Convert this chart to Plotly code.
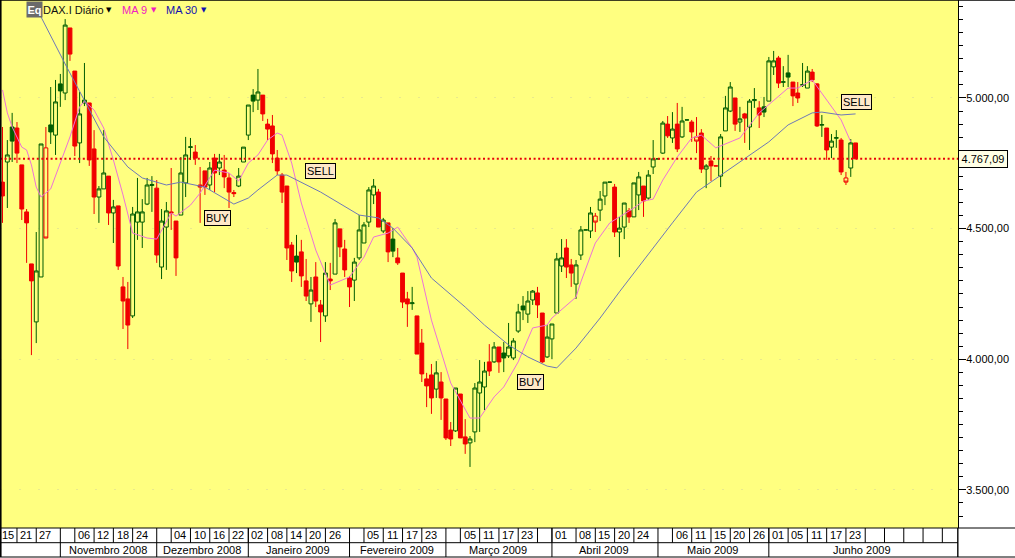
import plotly.graph_objects as go

# ---------- data ----------
open_ = [4678,4755,4835,4885,4744,4564,4365,4143,4315,4809,
         4870,4858,5027,5019,5268,5103,4828,4981,4981,4805,
         4621,4652,4701,4560,4587,4277,4231,4166,4525,4525,
         4594,4665,4655,4353,4506,4564,4529,4552,4675,4811,
         4793,4667,4721,4667,4770,4732,4724,4694,4638,4663,
         4755,4858,4988,4992,5011,4900,4893,4770,4705,4663,
         4437,4372,4411,4300,4212,4315,4208,4166,4307,4326,
         4499,4422,4311,4303,4388,4445,4525,4629,4640,4491,
         4522,4414,4388,4330,4231,4213,4166,4062,3925,3940,
         3886,3913,3848,3729,3726,3867,3703,3680,3722,3871,
         3894,3990,3990,4047,4005,4013,4005,4108,4189,4173,
         4227,4254,4177,4009,4078,4177,4357,4426,4361,4288,
         4399,4495,4491,4548,4571,4625,4678,4659,4487,4506,
         4568,4545,4629,4663,4617,4736,4767,4789,4900,4847,
         4900,4851,4916,4908,4851,4866,4728,4759,4740,4701,
         4874,4950,5000,4908,4939,4889,4990,4962,4946,4988,
         5119,5153,5060,5080,5061,5019,5049,5038,5099,5054,
         4896,4885,4812,4846,4839,4694,4732,4828]
high = [4889,4839,4943,4908,4744,4575,4365,4487,4824,4889,
        5042,5069,5092,5302,5268,5103,5023,5134,4981,4877,
        4663,4877,4701,4610,4587,4315,4296,4583,4694,4613,
        4694,4701,4686,4575,4602,4732,4529,4774,4851,4847,
        4820,4736,4721,4755,4786,4786,4782,4713,4648,4732,
        4812,4973,5034,5111,5011,4920,4935,4801,4713,4663,
        4449,4476,4457,4384,4315,4372,4227,4372,4369,4537,
        4499,4457,4319,4388,4552,4525,4659,4690,4652,4541,
        4522,4502,4426,4330,4258,4277,4166,4116,3948,3982,
        3993,3951,3848,3760,3890,3867,3771,3706,3909,3997,
        3990,4058,4066,4047,4066,4139,4081,4212,4242,4261,
        4265,4277,4177,4131,4135,4407,4460,4460,4384,4380,
        4510,4495,4583,4560,4644,4678,4678,4671,4545,4598,
        4579,4675,4717,4663,4724,4839,4767,4912,4931,4946,
        4981,4966,4916,4916,4927,4881,4747,4778,4740,4862,
        5008,5061,5000,4966,4943,4996,5038,4988,5004,5157,
        5180,5161,5122,5165,5061,5061,5134,5122,5111,5057,
        4935,4885,4862,4877,4847,4717,4843,4828]
low = [4522,4579,4755,4751,4533,4369,4016,4062,4315,4464,
       4824,4782,4966,4992,5142,4778,4751,4969,4740,4556,
       4522,4652,4514,4445,4342,4116,4039,4158,4457,4426,
       4590,4564,4369,4307,4342,4495,4319,4552,4621,4763,
       4744,4522,4629,4648,4640,4705,4655,4579,4621,4659,
       4755,4839,4946,4954,4912,4839,4751,4705,4598,4380,
       4296,4330,4277,4223,4143,4200,4066,4143,4265,4326,
       4391,4315,4200,4223,4380,4445,4506,4594,4506,4483,
       4372,4391,4361,4196,4124,4189,4020,3913,3817,3791,
       3852,3768,3691,3668,3722,3699,3638,3588,3683,3722,
       3806,3936,3986,3948,3951,4005,3997,4101,4150,4139,
       4208,4158,3986,4005,4001,4177,4334,4311,4277,4231,
       4380,4495,4464,4487,4529,4590,4678,4468,4391,4460,
       4522,4545,4571,4545,4610,4709,4767,4786,4847,4828,
       4793,4847,4916,4832,4789,4713,4655,4682,4740,4659,
       4874,4946,4874,4870,4828,4801,4962,4885,4927,4988,
       5088,5038,5042,5042,4969,4981,5042,5038,5061,4889,
       4851,4763,4770,4809,4705,4667,4698,4767.09]
close = [4625,4782,4889,4789,4575,4522,4300,4338,4824,4464,
         4897,4985,5054,5279,5168,4816,4939,4992,4763,4621,
         4652,4713,4560,4583,4357,4223,4131,4556,4564,4564,
         4667,4669,4399,4529,4568,4560,4388,4713,4782,4813,
         4770,4659,4659,4732,4713,4755,4698,4640,4634,4701,
         4812,4973,5011,5023,4939,4881,4786,4721,4640,4426,
         4338,4395,4319,4242,4265,4223,4181,4330,4300,4522,
         4430,4342,4277,4372,4495,4514,4648,4663,4506,4533,
         4411,4460,4369,4219,4212,4216,4020,3944,3898,3852,
         3948,3852,3699,3695,3890,3699,3676,3695,3890,3913,
         3955,3955,4047,3990,4024,4047,4070,4181,4204,4223,
         4261,4208,3990,4085,4135,4384,4388,4353,4330,4361,
         4495,4495,4560,4525,4613,4678,4678,4487,4502,4598,
         4545,4675,4698,4606,4705,4767,4767,4904,4855,4881,
         4805,4912,4916,4870,4835,4728,4740,4740,4740,4851,
         4962,5042,4900,4920,4923,4988,4994,4935,4966,5142,
         5142,5057,5062,5096,5008,5000,5051,5103,5069,4893,
         4898,4801,4835,4848,4717,4678,4828,4767.09]
assert len(open_) == len(high) == len(low) == len(close) == 178

filled_green = [2, 10, 12, 52, 61, 81, 104, 108, 158, 163]
hollow_red = [9, 123, 144, 175]
flat_red = [148]

ma9_bar = [0,1,2,4,5,6,7,8,10,12,14,16,17,19,21,23,25,27,30,32,35,36,39,41,44,47,49,51,53,55,57,58,60,62,64,65,68,72,75,77,80,82,85,86,89,93,97,99,102,104,107,110,113,114,119,120,123,126,131,133,135,137,140,143,145,148,153,157,163,165,168,170,174,176]
ma9_val = [5031,4943,4889,4812,4801,4744,4659,4621,4652,4751,4851,4966,4988,4954,4885,4763,4629,4483,4464,4460,4560,4548,4590,4636,4724,4713,4682,4751,4782,4839,4866,4858,4751,4598,4476,4418,4284,4315,4391,4468,4483,4506,4426,4391,4150,3909,3775,3775,3856,3894,3990,4120,4131,4158,4238,4296,4445,4522,4579,4606,4613,4686,4774,4847,4858,4809,4847,4943,5038,5038,5069,5019,4916,4832]

ma30_bar = [7,8,13,17,21,26,29,34,37,42,48,51,53,57,59,66,74,78,81,85,89,96,100,105,109,113,115,119,124,128,133,139,144,149,154,159,163,168,170,174,177]
ma30_val = [5364,5310,5130,4992,4851,4736,4694,4667,4678,4659,4594,4617,4648,4705,4705,4640,4552,4541,4502,4426,4311,4200,4131,4055,4009,3974,3967,4043,4158,4258,4380,4522,4640,4705,4770,4832,4897,4943,4946,4935,4939]

last_price = 4767.09
last_label = "4.767,09"

y_ticks = [3500, 4000, 4500, 5000]
y_labels = ["3.500,00", "4.000,00", "4.500,00", "5.000,00"]

day_bar = [-0.3, 3, 7, 15, 19, 23, 27, 35, 39, 43, 47, 51, 55, 59, 63, 67, 75, 79, 83, 87, 95, 99, 103, 107, 114, 119, 123, 127, 131, 139, 143, 147, 151, 155, 159, 163, 167, 171, 175]
day_text = ["15","21","27","06","12","18","24","04","10","16","22","02","08","14","20","26","05","11","17","23","05","11","17","23","01","08","15","20","24","06","11","15","20","26","01","05","11","17","23"]
blank_cell_bar = [111, 179, 183, 187, 191, 195]

month_bar = [12, 32, 51, 72, 92, 114, 136, 159, 198.2]
month_text = ["Novembro 2008","Dezembro 2008","Janeiro 2009","Fevereiro 2009","Março 2009","Abril 2009","Maio 2009","Junho 2009"]

signal_bar = [44.7, 109.6, 65.9, 177.1]
signal_price = [4541, 3913, 4721, 4985]
signal_text = ["BUY", "BUY", "SELL", "SELL"]

# ---------- styling ----------
BG = "#FFFF80"
GREEN = "#005c00"
RED = "#F00000"
FONT = "Liberation Sans"
PH = 528.0
PW = 958.0
X_RANGE = [-0.52, 198.25]
Y_RANGE = [3354.3, 5375]

fig = go.Figure()

def add_group(idx, line, fill):
    fig.add_trace(go.Candlestick(
        x=idx,
        open=[open_[i] for i in idx], high=[high[i] for i in idx],
        low=[low[i] for i in idx], close=[close[i] for i in idx],
        increasing=dict(line=dict(color=line, width=1), fillcolor=fill),
        decreasing=dict(line=dict(color=line, width=1), fillcolor=fill),
        whiskerwidth=0, showlegend=False, hoverinfo="skip"))

allbars = range(len(open_))
special = set(filled_green) | set(hollow_red) | set(flat_red)
add_group([i for i in allbars if i not in special and close[i] >= open_[i]], GREEN, BG)
add_group([i for i in allbars if i not in special and close[i] < open_[i]] + flat_red, RED, RED)
add_group(filled_green, GREEN, GREEN)
add_group(hollow_red, RED, BG)

fig.add_trace(go.Scatter(x=ma9_bar, y=ma9_val, mode="lines", showlegend=False, hoverinfo="skip",
                         line=dict(color="#EE72D8", width=1)))
fig.add_trace(go.Scatter(x=ma30_bar, y=ma30_val, mode="lines", showlegend=False, hoverinfo="skip",
                         line=dict(color="#6E78B8", width=1)))

shapes = []
# last price dotted line
shapes.append(dict(type="line", xref="paper", x0=0, x1=1, yref="y", y0=last_price, y1=last_price,
                   line=dict(color="#E8000A", width=2, dash="2px,2.6px")))
# frame
shapes.append(dict(type="line", xref="paper", x0=0, x1=1015/PW, yref="paper", y0=0.9995, y1=0.9995,
                   line=dict(color="black", width=1)))
shapes.append(dict(type="line", xref="paper", x0=0.0006, x1=0.0006, yref="paper", y0=1, y1=-29/PH,
                   line=dict(color="black", width=2)))
# date rows
r1, r2, r3 = 0.0, -14.7/PH, -29/PH
shapes.append(dict(type="line", xref="paper", x0=0, x1=1015/PW, yref="paper", y0=r1, y1=r1, line=dict(color="black", width=1)))
shapes.append(dict(type="line", xref="paper", x0=0, x1=1, yref="paper", y0=r2, y1=r2, line=dict(color="black", width=1)))
shapes.append(dict(type="line", xref="paper", x0=0, x1=1015/PW, yref="paper", y0=r3, y1=r3, line=dict(color="black", width=1)))
shapes.append(dict(type="line", xref="paper", x0=1, x1=1, yref="paper", y0=r1, y1=r3, line=dict(color="black", width=1)))
for b in day_bar[1:] + blank_cell_bar:
    shapes.append(dict(type="line", xref="x", x0=b, x1=b, yref="paper", y0=r1, y1=r2, line=dict(color="black", width=1)))
for b in month_bar:
    shapes.append(dict(type="line", xref="x", x0=b, x1=b, yref="paper", y0=r1, y1=r3, line=dict(color="black", width=1)))

ann = []
for k, (b, t) in enumerate(zip(day_bar, day_text)):
    ann.append(dict(xref="x", yref="paper", x=b + (1.5 if k == 0 else 1.9), y=(r1 + r2) / 2, text=t, showarrow=False,
                    xanchor="center", yanchor="middle", font=dict(family=FONT, size=11, color="black")))
for a, b, t in zip(month_bar[:-1], month_bar[1:], month_text):
    ann.append(dict(xref="x", yref="paper", x=(a + b) / 2 - 0.2,
                    y=(r2 + r3) / 2, text=t, showarrow=False, xanchor="center", yanchor="middle",
                    font=dict(family=FONT, size=11, color="black")))
for b, p, t in zip(signal_bar, signal_price, signal_text):
    ann.append(dict(xref="x", yref="y", x=b, y=p, text=t, showarrow=False, xanchor="center", yanchor="middle",
                    bgcolor="#FFE8C8", bordercolor="black", borderwidth=1, borderpad=1,
                    font=dict(family=FONT, size=11, color="black")))
# price label
ann.append(dict(xref="paper", yref="y", x=1, y=last_price, text=last_label, showarrow=False, xanchor="left", yanchor="middle",
                width=48, height=16, bgcolor="#FFFFE6", bordercolor="black", borderwidth=1, borderpad=0,
                font=dict(family=FONT, size=11, color="black")))
# header
def head(px, text, color, **kw):
    d = dict(xref="paper", yref="paper", x=px / PW, y=1 - 10 / PH, text=text, showarrow=False,
             xanchor="left", yanchor="middle", font=dict(family=FONT, size=11, color=color))
    d.update(kw)
    ann.append(d)
head(26, "<b>Eq</b>", "white", width=15, height=15, bgcolor="#6A6A6A", borderpad=0)
head(41, "DAX.I Diário", "#101010")
head(104, "▼", "black", font=dict(family="DejaVu Sans", size=7, color="black"))
head(120, "MA 9", "#F020C0")
head(149, "▼", "#F020C0", font=dict(family="DejaVu Sans", size=7, color="#F020C0"))
head(164, "MA 30", "#1010B0")
head(199, "▼", "#1010B0", font=dict(family="DejaVu Sans", size=7, color="#1010B0"))

fig.update_layout(
    width=1015, height=558, autosize=False,
    margin=dict(l=0, r=57, t=0, b=30, pad=0),
    paper_bgcolor="white", plot_bgcolor=BG, showlegend=False,
    boxgap=0.2, boxgroupgap=0, boxmode="overlay",
    shapes=shapes, annotations=ann,
    xaxis=dict(type="linear", range=X_RANGE, showgrid=False, zeroline=False, showticklabels=False,
               ticks="", rangeslider=dict(visible=False), fixedrange=True),
    yaxis=dict(side="right", range=Y_RANGE, tickmode="array", tickvals=y_ticks, ticktext=y_labels,
               ticks="outside", ticklen=7, tickcolor="black", tickwidth=1, ticklabelstandoff=-2,
               tickfont=dict(family=FONT, size=11, color="black"),
               showline=True, linecolor="black", linewidth=1, zeroline=False,
               showgrid=True, gridcolor="#E9E98C", griddash="2px,17px", gridwidth=1, fixedrange=True,
               minor=dict(tickmode="linear", tick0=3500, dtick=50, ticks="outside", ticklen=4,
                          tickcolor="black", tickwidth=1, showgrid=False)),
)

fig.write_html("out.html", config=dict(displayModeBar=False),
               post_script="document.body.style.margin='0';document.body.style.overflow='hidden';")
